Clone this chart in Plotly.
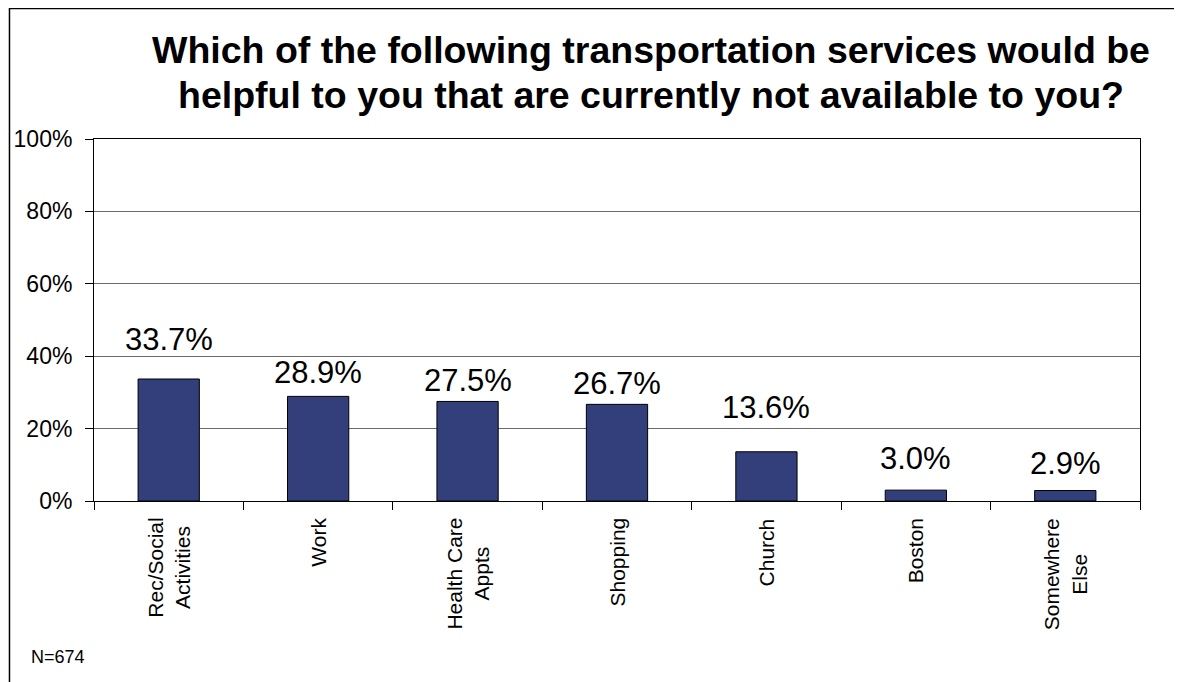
import plotly.graph_objects as go

categories = ["Rec/Social<br>Activities", "Work", "Health Care<br>Appts", "Shopping",
              "Church", "Boston", "Somewhere<br>Else"]
values = [33.7, 28.9, 27.5, 26.7, 13.6, 3.0, 2.9]
labels = ["33.7%", "28.9%", "27.5%", "26.7%", "13.6%", "3.0%", "2.9%"]
y_ticks = [0, 20, 40, 60, 80, 100]
y_tick_labels = ["0%", "20%", "40%", "60%", "80%", "100%"]
title_lines = ["Which of the following transportation services would be",
               "helpful to you that are currently not available to you?"]
note = "N=674"

# label vertical offsets (px), as placed in the original
label_shift = [39.5, 23.4, 21, 20.8, 44, 31.6, 27]

FONT = "Liberation Sans, Arial, sans-serif"
BAR = "#323F7B"

fig = go.Figure()
fig.add_trace(go.Bar(
    x=categories, y=values,
    marker=dict(color=BAR, line=dict(color="#000000", width=1)),
    width=0.41, hoverinfo="skip",
))

for c, v, t, s in zip(categories, values, labels, label_shift):
    fig.add_annotation(x=c, y=v, text=t, showarrow=False, xanchor="center",
                       yanchor="middle", yshift=s,
                       font=dict(family=FONT, size=31, color="#000000"))

# category labels (rotated, lines centred on each other)
for c in categories:
    fig.add_annotation(x=c, y=0, yref="paper", text=c, showarrow=False,
                       textangle=-90, align="center", xanchor="center",
                       yanchor="top", yshift=-15,
                       font=dict(family=FONT, size=21, color="#000000"))

for line, yp in zip(title_lines, [1.2459, 1.1202]):
    fig.add_annotation(x=0.5325, y=yp, xref="paper", yref="paper",
                       text="<b>" + line + "</b>", showarrow=False,
                       xanchor="center", yanchor="middle",
                       font=dict(family=FONT, size=37.5, color="#000000"))

fig.add_annotation(x=-0.062, y=-0.431, xref="paper", yref="paper", text=note,
                   showarrow=False, xanchor="left", yanchor="middle",
                   font=dict(family=FONT, size=18, color="#000000"))

# outer frame
fig.add_shape(type="rect", xref="paper", yref="paper",
              x0=-0.0808, x1=1.06, y0=-0.6, y1=1.3605,
              line=dict(color="#000000", width=1.5), fillcolor="rgba(0,0,0,0)")

fig.update_layout(
    width=1182, height=682,
    margin=dict(l=86, r=50, t=131, b=189, autoexpand=False),
    paper_bgcolor="#ffffff", plot_bgcolor="#ffffff",
    showlegend=False,
    xaxis=dict(ticks="outside", tickson="boundaries", ticklen=8,
               tickcolor="#000000", showline=True, linecolor="#000000", linewidth=1,
               mirror=True, showgrid=False, showticklabels=False, automargin=False),
    yaxis=dict(range=[0, 100], tickvals=y_ticks, ticktext=y_tick_labels,
               ticks="outside", ticklen=8, tickcolor="#000000",
               showline=True, linecolor="#000000", linewidth=1, mirror=True,
               showgrid=True, gridcolor="#6a6a6a", gridwidth=1.3, zeroline=False,
               ticklabelstandoff=8, automargin=False,
               tickfont=dict(family=FONT, size=23, color="#000000")),
)

fig.write_html("out.html")
